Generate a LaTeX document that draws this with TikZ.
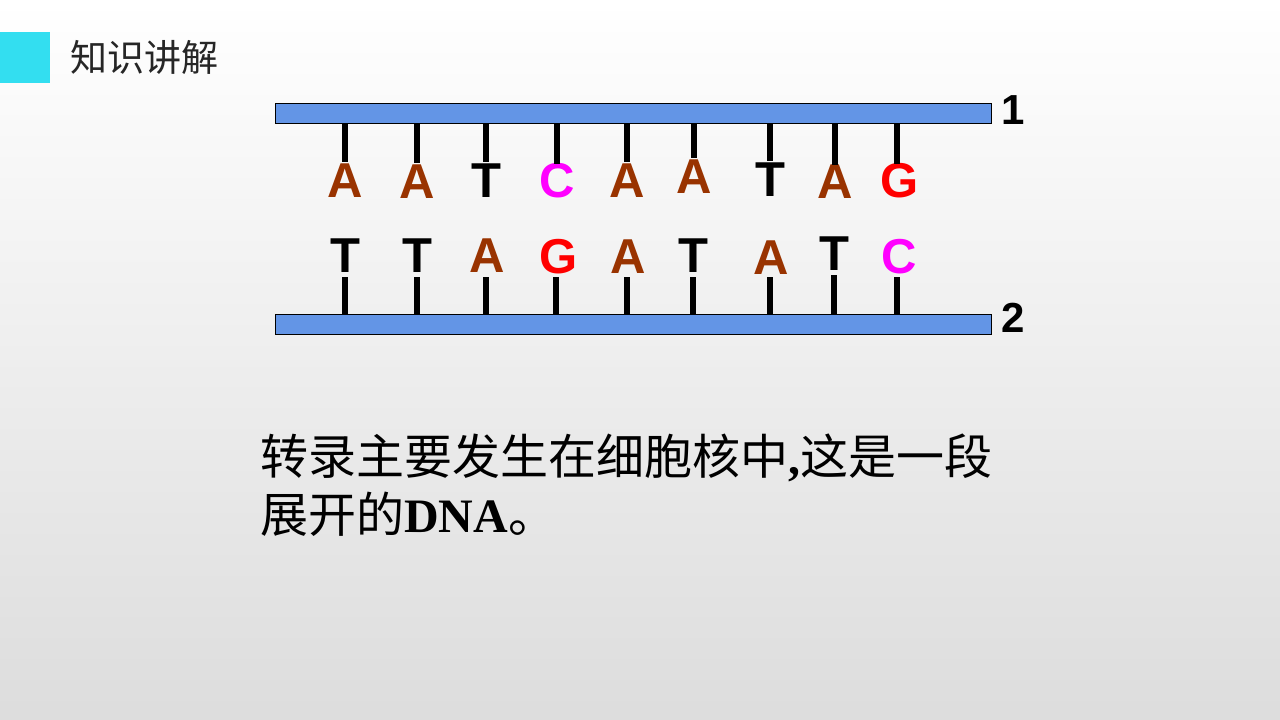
\documentclass[tikz,border=0pt]{standalone}
\usepackage{fontspec}
\setmainfont{Liberation Serif}
\setsansfont{Liberation Sans}
\newfontfamily\cjk{Noto Sans CJK SC}
\usetikzlibrary{positioning}

\definecolor{barblue}{RGB}{99,149,230}
\definecolor{tagcyan}{RGB}{51,222,240}
\definecolor{colA}{RGB}{153,51,0}
\definecolor{colC}{RGB}{255,0,255}
\definecolor{colG}{RGB}{255,0,0}

\begin{document}
\begin{tikzpicture}[
  x=1pt,
  y=-1pt,
  strand/.style={draw=black, line width=0.8pt, fill=barblue, minimum width=716pt, minimum height=20pt, inner sep=0pt, anchor=north west},
  base/.style={font=\fontsize{49}{49}\selectfont\sffamily\bfseries, inner sep=0pt, text height=35pt, text depth=0pt},
  topbase/.style={base, anchor=north},
  botbase/.style={base, anchor=south},
  link/.style={line width=5.5pt},
  num/.style={font=\fontsize{42}{42}\selectfont\sffamily\bfseries, inner sep=0pt}
]
  \shade[top color=white, middle color=gray!5, bottom color=gray!27] (0,0) rectangle (1280,720);
  \useasboundingbox (0,0) rectangle (1280,720);

  \fill[tagcyan] (0,32) rectangle (50,83);
  \node[anchor=base west, inner sep=0pt, font=\cjk\fontsize{37}{37}\selectfont, text=black!85] (title) at (70,71) {知识讲解};

  \node[strand] (s1) at (275,103) {};
  \node[strand] (s2) at (275,314) {};
  \node[num] (n1) at (1013,110) {1};
  \node[num] (n2) at (1013,318) {2};

  % strand 1
  \node[topbase, text=colA] (t1) at (345,162) {A};
  \node[topbase, text=colA] (t2) at (417,163) {A};
  \node[topbase] (t3) at (486,162) {T};
  \node[topbase, text=colC] (t4) at (557,162) {C};
  \node[topbase, text=colA] (t5) at (627,162) {A};
  \node[topbase, text=colA] (t6) at (694,158) {A};
  \node[topbase] (t7) at (770,161) {T};
  \node[topbase, text=colA] (t8) at (835,163) {A};
  \node[topbase, text=colG] (t9) at (900,162) {G};

  % strand 2
  \node[botbase] (b1) at (345,273) {T};
  \node[botbase] (b2) at (417,273) {T};
  \node[botbase, text=colA] (b3) at (487,273) {A};
  \node[botbase, text=colG] (b4) at (559,274) {G};
  \node[botbase, text=colA] (b5) at (628,274) {A};
  \node[botbase] (b6) at (693,273) {T};
  \node[botbase, text=colA] (b7) at (771,275) {A};
  \node[botbase] (b8) at (834,271) {T};
  \node[botbase, text=colC] (b9) at (899,274) {C};

  \draw[link] (t1.north |- s1.south) -- (t1.north);
  \draw[link] (t2.north |- s1.south) -- (t2.north);
  \draw[link] (t3.north |- s1.south) -- (t3.north);
  \draw[link] (t4.north |- s1.south) -- ([yshift=-2pt]t4.north);
  \draw[link] (t5.north |- s1.south) -- (t5.north);
  \draw[link] (t6.north |- s1.south) -- (t6.north);
  \draw[link] (t7.north |- s1.south) -- (t7.north);
  \draw[link] (t8.north |- s1.south) -- ([yshift=-2pt]t8.north);
  \draw[link] ([xshift=-3pt]t9.north |- s1.south) -- ([xshift=-3pt, yshift=-2pt]t9.north);

  \draw[link, shorten >=4pt] (b1.south |- s2.north) -- (b1.south);
  \draw[link, shorten >=4pt] (b2.south |- s2.north) -- (b2.south);
  \draw[link, shorten >=4pt] ([xshift=-1pt]b3.south |- s2.north) -- ([xshift=-1pt]b3.south);
  \draw[link, shorten >=3pt] ([xshift=-3pt]b4.south |- s2.north) -- ([xshift=-3pt]b4.south);
  \draw[link, shorten >=3pt] ([xshift=-1pt]b5.south |- s2.north) -- ([xshift=-1pt]b5.south);
  \draw[link, shorten >=4pt] (b6.south |- s2.north) -- (b6.south);
  \draw[link, shorten >=2pt] ([xshift=-1pt]b7.south |- s2.north) -- ([xshift=-1pt]b7.south);
  \draw[link, shorten >=4pt] (b8.south |- s2.north) -- (b8.south);
  \draw[link, shorten >=3pt] ([xshift=-2pt]b9.south |- s2.north) -- ([xshift=-2pt]b9.south);

  \node[anchor=base west, inner sep=0pt, font=\cjk\fontsize{48}{48}\selectfont] (line1) at (260,474) {转录主要发生在细胞核中{\rmfamily\bfseries ,}这是一段};
  \node[anchor=base west, inner sep=0pt, font=\cjk\fontsize{48}{48}\selectfont] (line2) at (260,532) {展开的{\rmfamily\bfseries DNA}。};
\end{tikzpicture}
\end{document}
